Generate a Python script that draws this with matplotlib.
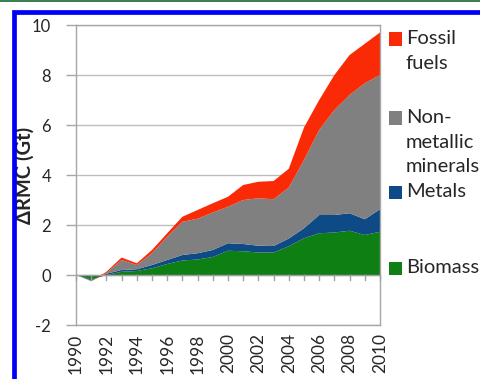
import matplotlib
matplotlib.use("Agg")
import matplotlib.pyplot as plt
from matplotlib.patches import Rectangle

plt.rcParams['font.family'] = ['Lato', 'DejaVu Sans']
plt.rcParams['axes.unicode_minus'] = False

years = list(range(1990, 2011))
biomass = [0.00, -0.18, 0.00, 0.13, 0.16, 0.27, 0.44, 0.58, 0.62, 0.72, 0.97,
           0.95, 0.90, 0.90, 1.15, 1.47, 1.67, 1.70, 1.77, 1.60, 1.73]
metals = [0.00, -0.04, 0.05, 0.07, 0.07, 0.13, 0.16, 0.22, 0.25, 0.28, 0.30,
          0.29, 0.27, 0.26, 0.31, 0.40, 0.73, 0.70, 0.70, 0.63, 0.90]
non_metallic = [0.00, -0.03, 0.03, 0.40, 0.17, 0.47, 0.93, 1.33, 1.38, 1.50, 1.46,
                1.76, 1.90, 1.87, 2.04, 2.73, 3.40, 4.20, 4.73, 5.44, 5.37]
fossil = [0.00, 0.00, 0.05, 0.10, 0.07, 0.13, 0.14, 0.20, 0.35, 0.37, 0.40,
          0.60, 0.66, 0.73, 0.75, 1.30, 1.20, 1.40, 1.60, 1.58, 1.70]

series_names = ["Biomass", "Metals", "Non-\nmetallic\nminerals", "Fossil\nfuels"]
series_colors = ["#0E7F12", "#0D4A86", "#808080", "#FB2A06"]
year_ticks = list(range(1990, 2011, 2))
y_ticks = [-2, 0, 2, 4, 6, 8, 10]

W, H = 481, 379
fig = plt.figure(figsize=(W / 100, H / 100), dpi=100)
fig.patch.set_facecolor("white")

def px(x0, y0, x1, y1):
    return [x0 / W, 1 - y1 / H, (x1 - x0) / W, (y1 - y0) / H]

ax = fig.add_axes(px(76, 25, 380, 325))

ax.stackplot(years, biomass, metals, non_metallic, fossil,
             colors=series_colors, linewidth=0, zorder=2)

ax.set_xlim(years[0], years[-1])
ax.set_ylim(y_ticks[0], y_ticks[-1])
ax.set_yticks(y_ticks)
ax.set_xticks(year_ticks)
ax.set_xticklabels([str(y) for y in year_ticks], rotation=90)
ax.tick_params(axis='x', length=0, pad=6, labelsize=12.5, labelcolor="#262626")
ax.tick_params(axis='y', direction='out', length=7, width=1, color="#A6A6A6",
               pad=11, labelsize=12, labelcolor="#262626")

ax.grid(axis='y', color="#BDBDBD", linewidth=1, zorder=0)
ax.set_axisbelow(True)
for s in ax.spines.values():
    s.set_color("#A6A6A6")
    s.set_linewidth(1)

# category axis crossing at zero, with a tick at every year
ax.axhline(0, color="#A0A0A0", linewidth=1, zorder=3)
for yr in years:
    ax.plot([yr, yr], [0, -0.2], color="#A0A0A0", linewidth=1, zorder=3,
            clip_on=False)

ax.set_ylabel("ΔRMC (Gt)", fontsize=14.5, fontweight='bold', color="#262626")
ax.yaxis.set_label_coords(-0.135, 0.5)

# legend entries on the right, top to bottom
legend_rows = [(3, 39), (2, 118), (1, 192), (0, 268)]
for idx, ypix in legend_rows:
    fig.patches.append(Rectangle(((389) / W, 1 - (ypix + 6.5) / H), 13 / W, 13 / H,
                                 transform=fig.transFigure, facecolor=series_colors[idx],
                                 edgecolor='none'))
    fig.text(406 / W, 1 - (ypix - 9) / H, series_names[idx], fontsize=14.5,
             color="#262626", va='top', ha='left', linespacing=1.55)

# outer frame decorations
fig.patches.append(Rectangle((0, 1 - 2 / H), 1, 2 / H, transform=fig.transFigure,
                             facecolor="#3B7F52", edgecolor='none'))
fig.patches.append(Rectangle((14.5 / W, -0.05), 1.2, 1 - 12.5 / H + 0.05,
                             transform=fig.transFigure, facecolor='none',
                             edgecolor="#0000F5", linewidth=3.4))

fig.savefig("out.png", dpi=100)
